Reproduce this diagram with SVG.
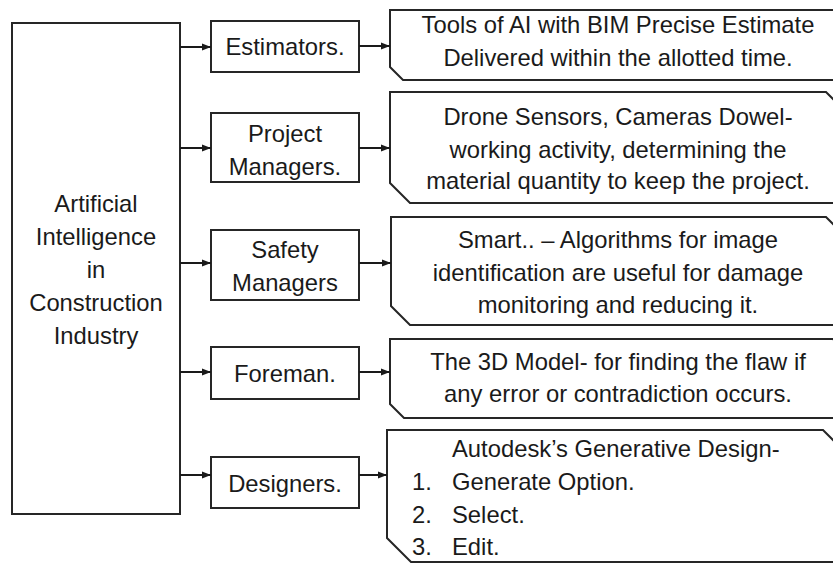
<svg xmlns="http://www.w3.org/2000/svg" width="833" height="563" viewBox="0 0 833 563">
<style>
.box{fill:#fff;stroke:#262626;stroke-width:2}
.t{font-family:"Liberation Sans",Arial,sans-serif;font-size:23.8px;fill:#1a1a1a}
.c{text-anchor:middle}
.ln{stroke:#1a1a1a;stroke-width:2;fill:none}
</style>
<defs>
<marker id="ah" markerWidth="9" markerHeight="8" refX="9" refY="4" orient="auto" markerUnits="userSpaceOnUse">
<path d="M0,0.5 L9,4 L0,7.5 z" fill="#1a1a1a"/>
</marker>
</defs>
<rect width="833" height="563" fill="#fff"/>
<g id="root">
<rect class="box" x="12" y="23" width="168" height="491"/>
<text class="t c" x="96" y="212">Artificial</text>
<text class="t c" x="96" y="245">Intelligence</text>
<text class="t c" x="96" y="278">in</text>
<text class="t c" x="96" y="311">Construction</text>
<text class="t c" x="96" y="344">Industry</text>
</g>
<g id="estimators">
<rect class="box" x="211" y="21" width="148" height="51"/>
<text class="t c" x="285" y="55">Estimators.</text>
</g>
<g id="project-managers">
<rect class="box" x="211" y="113" width="148" height="69"/>
<text class="t c" x="285" y="142">Project</text>
<text class="t c" x="285" y="175">Managers.</text>
</g>
<g id="safety-managers">
<rect class="box" x="211" y="230" width="148" height="70"/>
<text class="t c" x="285" y="258">Safety</text>
<text class="t c" x="285" y="291">Managers</text>
</g>
<g id="foreman">
<rect class="box" x="211" y="347" width="148" height="52"/>
<text class="t c" x="285" y="382">Foreman.</text>
</g>
<g id="designers">
<rect class="box" x="211" y="457" width="148" height="51"/>
<text class="t c" x="285" y="492">Designers.</text>
</g>
<g id="estimators-detail">
<polygon class="box" points="390,10 834,10 847,23 847,80 403,80 390,67"/>
<text class="t c" x="618" y="32.5">Tools of AI with BIM Precise Estimate</text>
<text class="t c" x="618" y="66">Delivered within the allotted time.</text>
</g>
<g id="project-detail">
<polygon class="box" points="390,92 826,92 846,112 846,203 410,203 390,183"/>
<text class="t c" x="618" y="125">Drone Sensors, Cameras Dowel-</text>
<text class="t c" x="618" y="157.5">working activity, determining the</text>
<text class="t c" x="618" y="189">material quantity to keep the project.</text>
</g>
<g id="safety-detail">
<polygon class="box" points="391,217 826,217 845,236 845,325 410,325 391,306"/>
<text class="t c" x="618" y="248">Smart.. – Algorithms for image</text>
<text class="t c" x="618" y="281">identification are useful for damage</text>
<text class="t c" x="618" y="313">monitoring and reducing it.</text>
</g>
<g id="foreman-detail">
<polygon class="box" points="390,339 833,339 847,353 847,418 404,418 390,404"/>
<text class="t c" x="618" y="370">The 3D Model- for finding the flaw if</text>
<text class="t c" x="618" y="402">any error or contradiction occurs.</text>
</g>
<g id="designers-detail">
<polygon class="box" points="387,430 823,430 847,454 847,562 411,562 387,538"/>
<text class="t" x="452" y="457">Autodesk’s Generative Design-</text>
<text class="t" x="412" y="490">1.</text><text class="t" x="452" y="490">Generate Option.</text>
<text class="t" x="412" y="523">2.</text><text class="t" x="452" y="523">Select.</text>
<text class="t" x="412" y="555">3.</text><text class="t" x="452" y="555">Edit.</text>
</g>
<g id="connectors">
<line class="ln" x1="180" y1="47" x2="211" y2="47" marker-end="url(#ah)"/>
<line class="ln" x1="180" y1="148" x2="211" y2="148" marker-end="url(#ah)"/>
<line class="ln" x1="180" y1="263" x2="211" y2="263" marker-end="url(#ah)"/>
<line class="ln" x1="180" y1="372" x2="211" y2="372" marker-end="url(#ah)"/>
<line class="ln" x1="180" y1="475" x2="211" y2="475" marker-end="url(#ah)"/>
<line class="ln" x1="359" y1="46" x2="390" y2="46" marker-end="url(#ah)"/>
<line class="ln" x1="359" y1="148" x2="390" y2="148" marker-end="url(#ah)"/>
<line class="ln" x1="359" y1="263" x2="391" y2="263" marker-end="url(#ah)"/>
<line class="ln" x1="359" y1="372" x2="390" y2="372" marker-end="url(#ah)"/>
<line class="ln" x1="359" y1="475" x2="387" y2="475" marker-end="url(#ah)"/>
</g>
</svg>
